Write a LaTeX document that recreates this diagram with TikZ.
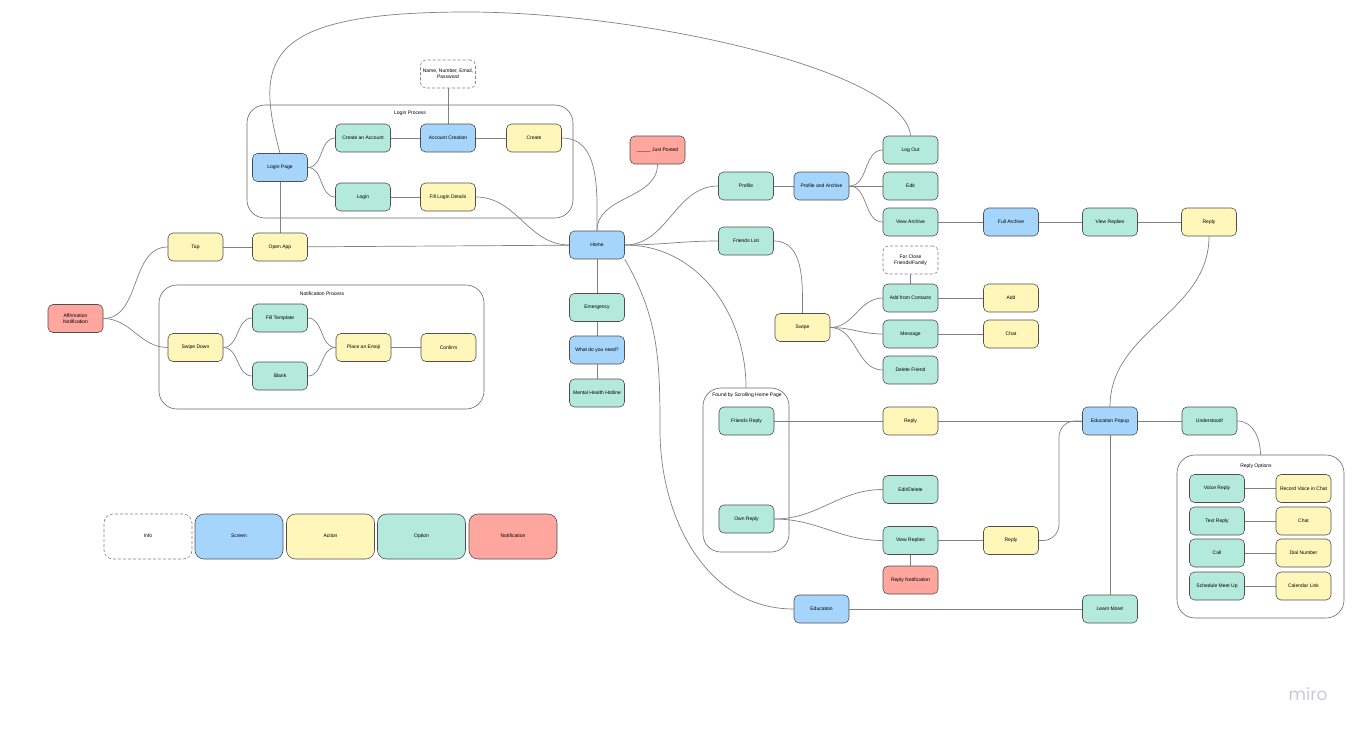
\documentclass[tikz,border=0pt]{standalone}
\usepackage{fontspec}
\setmainfont{Liberation Sans}
\newfontfamily\logofont{Poppins}
\definecolor{scr}{HTML}{A6D5FB}
\definecolor{act}{HTML}{FFF6BA}
\definecolor{opt}{HTML}{B4EADB}
\definecolor{ntf}{HTML}{FFA69F}
\definecolor{bord}{HTML}{4F4F4F}
\definecolor{conn}{HTML}{808080}
\definecolor{logogrey}{HTML}{C9C9D6}
\pgfdeclarelayer{contl}
\pgfdeclarelayer{linel}
\pgfsetlayers{contl,linel,main}
\begin{document}
\begin{tikzpicture}[x=1pt,y=1pt,
 box/.style={draw=bord, line width=0.6pt, rounded corners=5pt, minimum width=55pt, minimum height=28pt, inner sep=1pt, align=center, font=\fontsize{5}{6}\selectfont},
 screen/.style={box, fill=scr},
 action/.style={box, fill=act},
 option/.style={box, fill=opt},
 notif/.style={box, fill=ntf},
 info/.style={box, fill=white, draw=conn, dash pattern=on 3pt off 2pt},
 cont/.style={draw=bord!85, line width=0.6pt, rounded corners=18pt, fill=white, inner sep=0pt},
 clabel/.style={font=\fontsize{5}{6}\selectfont, inner sep=0pt},
 link/.style={draw=conn, line width=0.7pt},
 legend/.style={minimum width=88pt, minimum height=45pt, rounded corners=9pt, text height=3.6pt, text depth=1.1pt}
]
\useasboundingbox (0,0) rectangle (1362,-734);

% containers
\begin{pgfonlayer}{contl}
\node[cont, minimum width=326pt, minimum height=113pt] (lpc) at (410,-161.5) {};
\node[cont, minimum width=325pt, minimum height=124pt] (npc) at (321.5,-347) {};
\node[cont, minimum width=86pt, minimum height=164pt] (fsc) at (746,-470) {};
\node[cont, minimum width=167pt, minimum height=163pt] (roc) at (1260.5,-536.5) {};
\end{pgfonlayer}
\node[clabel] (lpcl) at (410,-113) {Login Process};
\node[clabel] (npcl) at (322,-294) {Notification Process};
\node[clabel] (fscl) at (747,-395) {Found by Scrolling Home Page};
\node[clabel] (rocl) at (1256,-466) {Reply Options};

% nodes
\node[screen] (lp) at (280,-167.5) {Login Page};
\node[option] (cra) at (363,-138) {Create an Account};
\node[screen] (acc) at (448,-138) {Account Creation};
\node[action] (crt) at (534,-138) {Create};
\node[option] (lgn) at (363,-197) {Login};
\node[action] (fld) at (448,-197) {Fill Login Details};
\node[info] (nme) at (448,-74) {Name, Number, Email,\\Password};
\node[action] (tap) at (195.5,-247) {Tap};
\node[action] (opn) at (280,-247) {Open App};
\node[notif] (aff) at (75.5,-318.5) {Affirmation\\Notification};
\node[action] (swd) at (195.5,-347.5) {Swipe Down};
\node[option] (flt) at (280,-318) {Fill Template};
\node[option] (blk) at (280,-376) {Blank};
\node[action] (emo) at (363.5,-347.5) {Place an Emoji};
\node[action] (cnf) at (448.5,-347.5) {Confirm};
\node[screen] (home) at (597,-245) {Home};
\node[notif] (jp) at (657.5,-150) {\_\_\_\_\_ Just Posted};
\node[option] (emg) at (597,-307.5) {Emergency};
\node[screen] (wdy) at (597,-350) {What do you need?};
\node[option] (mhh) at (597,-393) {Mental Health Hotline};
\node[option] (prf) at (746,-186) {Profile};
\node[option] (frl) at (746,-241) {Friends List};
\node[screen] (paa) at (821.5,-186) {Profile and Archive};
\node[option] (lgo) at (910.5,-150) {Log Out};
\node[option] (edt) at (910.5,-186) {Edit};
\node[option] (var) at (910.5,-222) {View Archive};
\node[info] (fca) at (910.5,-260) {For Close\\Friends/Family};
\node[option] (afc) at (910.5,-298) {Add from Contacts};
\node[option] (msg) at (910.5,-334) {Message};
\node[option] (dlf) at (910.5,-370) {Delete Friend};
\node[action] (swp) at (802.5,-327.5) {Swipe};
\node[screen] (fa) at (1011,-222) {Full Archive};
\node[option] (vr1) at (1110,-222) {View Replies};
\node[action] (rp1) at (1209,-222) {Reply};
\node[action] (add) at (1011,-298) {Add};
\node[action] (cht) at (1011,-334) {Chat};
\node[option] (frp) at (746.5,-421) {Friends Reply};
\node[option] (own) at (746.5,-519) {Own Reply};
\node[action] (rp2) at (910.5,-421) {Reply};
\node[option] (eds) at (910.5,-489.5) {Edit/Delete};
\node[option] (vr2) at (910.5,-540.5) {View Replies};
\node[notif] (rnt) at (910.5,-580) {Reply Notification};
\node[action] (rp3) at (1011,-540.5) {Reply};
\node[screen] (edu) at (821.5,-609) {Education};
\node[screen] (edp) at (1110,-421) {Education Popup};
\node[option] (und) at (1209.5,-421) {Understood!};
\node[option] (lm) at (1110,-609) {Learn More!};
\node[option] (vcr) at (1217,-488.5) {Voice Reply};
\node[action] (rvc) at (1303.5,-488.5) {Record Voice in Chat};
\node[option] (txr) at (1217,-521) {Text Reply};
\node[action] (cht2) at (1303.5,-521) {Chat};
\node[option] (cal) at (1217,-553) {Call};
\node[action] (dnm) at (1303.5,-553) {Dial Number};
\node[option] (smu) at (1217,-586) {Schedule Meet Up};
\node[action] (cln) at (1303.5,-586) {Calendar Link};

% legend
\node[info, legend] (lgi) at (148,-536.5) {Info};
\node[screen, legend] (lgs) at (239,-536.5) {Screen};
\node[action, legend] (lga) at (330.5,-536.5) {Action};
\node[option, legend] (lgop) at (421.5,-536.5) {Option};
\node[notif, legend] (lgn2) at (513,-536.5) {Notification};

\node[font=\logofont\fontsize{17}{17}\selectfont, text=logogrey] (logo) at (1308,-694) {miro};

% connectors
\begin{pgfonlayer}{linel}
\draw[link] (aff.east) to[out=0,in=180] (tap.west);
\draw[link] (aff.east) to[out=0,in=180] (swd.west);
\draw[link] (tap) -- (opn);
\draw[link] (opn) -- (home);
\draw[link] (opn) -- (lp);
\draw[link] (swd.east) to[out=0,in=180] (flt.west);
\draw[link] (swd.east) to[out=0,in=180] (blk.west);
\draw[link] (flt.east) to[out=0,in=180] (emo.west);
\draw[link] (blk.east) to[out=0,in=180] (emo.west);
\draw[link] (emo) -- (cnf);
\draw[link] (lp.north) .. controls (255,-60) and (262,-12) .. (467,-12) .. controls (640,-12) and (905,-70) .. (lgo.north);
\draw[link] (lp.east) to[out=0,in=180] (cra.west);
\draw[link] (lp.east) to[out=0,in=180] (lgn.west);
\draw[link] (cra) -- (acc);
\draw[link] (acc) -- (crt);
\draw[link] (nme) -- (acc);
\draw[link] (lgn) -- (fld);
\draw[link] (crt.east) to[out=0,in=90] (home.north);
\draw[link] (fld.east) to[out=0,in=180] (home.west);
\draw[link] (jp.south) to[out=-90,in=90] (home.north);
\draw[link] (home.east) to[out=0,in=180] (prf.west);
\draw[link] (home.east) to[out=0,in=180] (frl.west);
\draw[link] (home.east) to[out=0,in=90] (fsc.north);
\draw[link] (home.south east) to[out=-60,in=90] (660,-430) to[out=-90,in=180] (edu.west);
\draw[link] (home) -- (emg);
\draw[link] (emg) -- (wdy);
\draw[link] (wdy) -- (mhh);
\draw[link] (prf) -- (paa);
\draw[link] (paa.east) to[out=0,in=180] (lgo.west);
\draw[link] (paa) -- (edt);
\draw[link] (paa.east) to[out=0,in=180] (var.west);
\draw[link] (var) -- (fa);
\draw[link] (fa) -- (vr1);
\draw[link] (vr1) -- (rp1);
\draw[link] (rp1.south) to[out=-90,in=90] (edp.north);
\draw[link] (frl.east) to[out=0,in=90] (swp.north);
\draw[link] (swp.east) to[out=0,in=180] (afc.west);
\draw[link] (swp.east) to[out=0,in=180] (msg.west);
\draw[link] (swp.east) to[out=0,in=180] (dlf.west);
\draw[link] (fca) -- (afc);
\draw[link] (afc) -- (add);
\draw[link] (msg) -- (cht);
\draw[link] (frp) -- (rp2);
\draw[link] (rp2) -- (edp);
\draw[link] (own.east) to[out=0,in=180] (eds.west);
\draw[link] (own.east) to[out=0,in=180] (vr2.west);
\draw[link] (vr2) -- (rp3);
\draw[link] (vr2) -- (rnt);
\draw[link, rounded corners=16pt] (rp3.east) -- (1059,-540.5) -- (1059,-421) -- (edp.west);
\draw[link] (edu) -- (lm);
\draw[link] (edp) -- (lm);
\draw[link] (edp) -- (und);
\draw[link] (und.east) to[out=0,in=90] (roc.north);
\draw[link] (vcr) -- (rvc);
\draw[link] (txr) -- (cht2);
\draw[link] (cal) -- (dnm);
\draw[link] (smu) -- (cln);
\end{pgfonlayer}
\end{tikzpicture}
\end{document}
